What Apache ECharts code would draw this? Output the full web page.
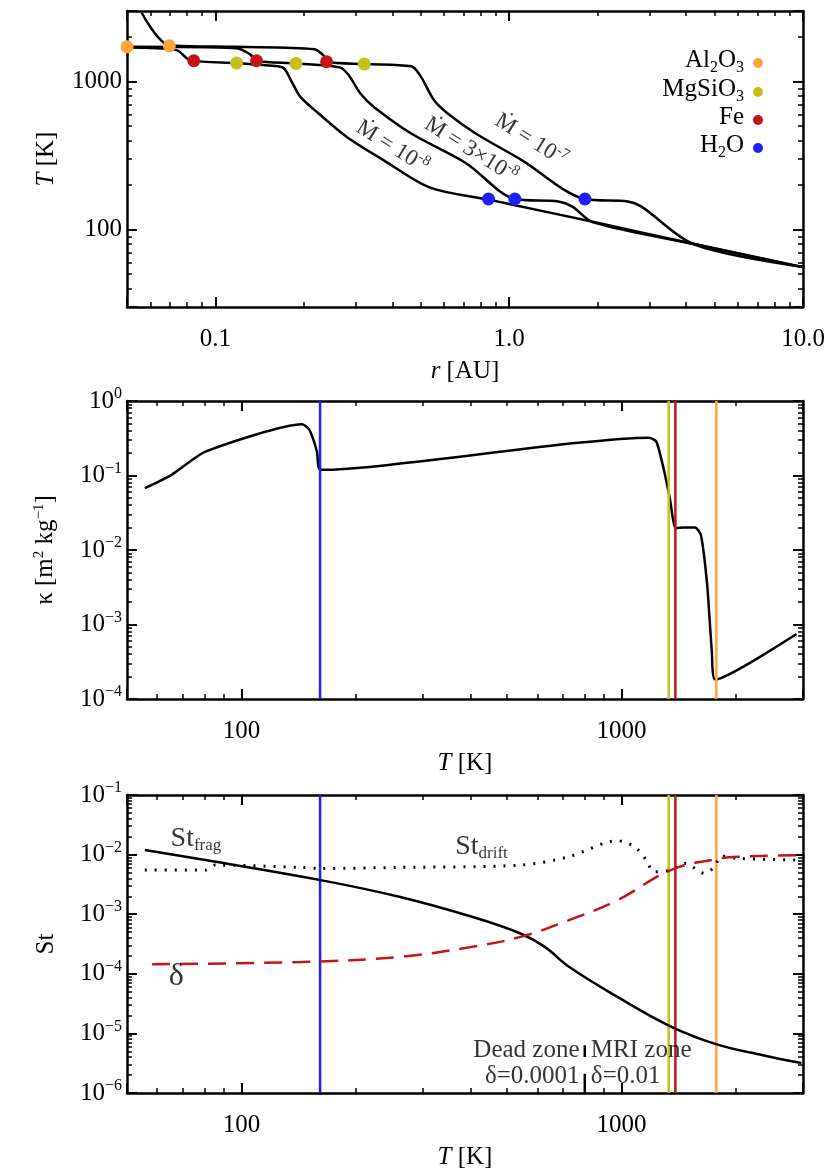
<!DOCTYPE html>
<html><head><meta charset="utf-8">
<script src="https://cdn.jsdelivr.net/npm/echarts@6/dist/echarts.min.js"></script>
<style>html,body{margin:0;padding:0;background:#fff}#c{width:830px;height:1176px}</style>
</head><body><div id="c"></div>
<script>
// ---- Panel 1: T(r) for three accretion rates ----
const rA = [0.05,0.0736,0.082,0.118,0.163,0.172,0.181,0.195,0.225,0.28,0.373,0.535,0.857,1.0,1.96,4.34,10];
const tA = [1700,1632,1397,1334,1268,1216,1016,785,607,423,295,193,159,149,112,79.3,55.8];
const rB = [0.05,0.118,0.131,0.138,0.188,0.265,0.285,0.312,0.347,0.464,0.715,1.045,1.47,1.64,1.93,4.34,10];
const tB = [1718,1682,1534,1383,1327,1248,1097,827,672,446,280,161,155,143,112,79.3,55.8];
const rC = [0.0561,0.0697,0.118,0.217,0.234,0.239,0.323,0.464,0.498,0.556,0.619,0.769,1.103,1.81,2.53,2.82,4.27,10];
const tC = [2920,1762,1718,1656,1494,1362,1314,1268,1097,745,607,446,295,161,155,143,79.3,55.8];
const dotAl = [[0.05,1718],[0.0697,1745]];
const dotMg = [[0.118,1334],[0.188,1327],[0.321,1314]];
const dotFe = [[0.0844,1383],[0.138,1383],[0.239,1362]];
const dotH2O = [[0.85,161],[1.045,161],[1.81,161]];
const mdotLabels = [[0.40,362,'10{s|-8}'],[0.741,344,'3×10{s|-8}'],[1.186,402,'10{s|-7}']];
// ---- Panel 2: opacity ----
const kT = [55.7,65.5,80.4,144.5,151,158,161.5,1181,1234,1289,1339,1387,1449,1560,1616,1679,1727,1763,2884];
const kV = [0.0675,0.102,0.209,0.486,0.408,0.209,0.119,0.322,0.285,0.125,0.0495,0.0196,0.02,0.02,0.016,0.00341,4.36e-4,1.82e-4,7.44e-4];
// ---- Panel 3: Stokes numbers ----
const fT = [55.7,80.4,161.5,260,404,542,628,727,975,1327,1754,2351,2972];
const fV = [0.0119,0.00809,0.00373,1.96e-3,9.04e-4,4.74e-4,2.83e-4,1.31e-4,4.1e-5,1.37e-5,6.75e-6,4.3e-6,3.19e-6];
const dT = [55.7,80.4,85.3,144.5,161.5,260,542,727,975,1080,1161,1215,1347,1470,1652,1754,1832,2031,2972];
const dV = [0.0055,0.0055,0.00667,0.00609,0.00586,0.00609,0.00667,0.0092,0.0171,0.0136,0.00809,0.00515,0.0055,0.00711,0.00483,0.00625,0.00944,0.00863,0.00809];
const deT = [58.2,144.5,260,404,542,727,975,1347,1754,2031,2972];
const deV = [1.45e-4,1.58e-4,1.92e-4,2.83e-4,4.17e-4,7.94e-4,1.72e-3,5.5e-3,8.3e-3,9.2e-3,9.82e-3];
const zoneSeg = [[800,6.3e-6],[800,4.0e-6],[800,null],[800,2.1e-6],[800,1e-6]];
const condT = {H2O:161, MgSiO3:1330, Fe:1385, Al2O3:1775};
const col = {Al2O3:'#ffa53a', MgSiO3:'#c6bf1c', Fe:'#c41414', H2O:'#1e1eff'};

const F = 'Liberation Serif';
const FS = 25;
const chart = echarts.init(document.getElementById('c'));
const pow = v => { const l = Math.log10(v); return Math.abs(l-Math.round(l))<1e-6 ? Math.round(l) : null; };
const supFmt = v => { const p = pow(v); return p===null ? '' : '10{s|' + (p<0?'−'+(-p):p) + '}'; };
const rich = {s:{fontSize:16,verticalAlign:'top',padding:[0,0,14,0],fontFamily:F,color:'#000'}};
function xAx(g,min,max,fmt,name,show){
  return {type:'log',gridIndex:g,min,max,position:show?'bottom':'top',
    axisLine:{show:true,lineStyle:{color:'#000',width:2.5}},
    axisTick:{show:true,inside:true,length:10,lineStyle:{color:'#000',width:2}},
    minorTick:{show:true,splitNumber:9,length:5,lineStyle:{color:'#000',width:1.5}},
    splitLine:{show:false},
    axisLabel:{show:show,formatter:fmt,fontFamily:F,fontSize:FS,color:'#000',margin:20},
    name:show?name:'',nameLocation:'middle',nameGap:52,nameTextStyle:{fontFamily:F,fontSize:FS,color:'#000',rich:{i:{fontStyle:'italic',fontFamily:F,fontSize:FS}}}};
}
function yAx(g,min,max,fmt,name,show,gap){
  return {type:'log',gridIndex:g,min,max,position:show?'left':'right',
    axisLine:{show:true,lineStyle:{color:'#000',width:2.5}},
    axisTick:{show:true,inside:true,length:10,lineStyle:{color:'#000',width:2}},
    minorTick:{show:true,splitNumber:9,length:5,lineStyle:{color:'#000',width:1.5}},
    splitLine:{show:false},
    axisLabel:{show:show,formatter:fmt,fontFamily:F,fontSize:FS,color:'#000',margin:5,rich},
    name:show?name:'',nameLocation:'middle',nameGap:gap,
    nameTextStyle:{fontFamily:F,fontSize:FS,color:'#000',rich:{i:{fontStyle:'italic',fontFamily:F,fontSize:FS},s:{fontSize:15,verticalAlign:'top',padding:[0,0,12,0],fontFamily:F}}}};
}
const fmt1x = v => { const p = pow(v); return p===null?'':(v<1?String(v):v.toFixed(1)); };
const fmtInt = v => { const p = pow(v); return p===null?'':String(Math.round(v)); };
const z = (a,b) => a.map((v,i)=>[v,b[i]]);
const line = (xi,yi,data,color,type,w,sm) => ({type:'line',xAxisIndex:xi,yAxisIndex:yi,data,showSymbol:false,symbol:'none',smooth:sm||false,
  lineStyle:{color,width:w||2.5,type:type||'solid'},silent:true,connectNulls:false,z:3});
const vline = (xi,yi,T,c,lo,hi) => line(xi,yi,[[T,lo],[T,hi]],c,'solid',2.5);
const txt = (xi,yi,x,y,fmt,align,extra,fs) => ({type:'scatter',xAxisIndex:xi,yAxisIndex:yi,symbolSize:0,data:[[x,y]],silent:true,z:10,
  label:Object.assign({show:true,position:'inside',formatter:fmt,fontFamily:F,fontSize:fs||FS,color:'#000',align:align||'center',
    rich:{s:{fontSize:15,verticalAlign:'top',padding:[0,0,12,0],fontFamily:F},b:{fontSize:17,verticalAlign:'bottom',padding:[14,0,0,0],fontFamily:F},i:{fontStyle:'italic',fontFamily:F,fontSize:FS}}},extra||{})});

const series = [];
series.push(line(0,0,z(rA,tA),'#000','solid',2.5,0.3), line(0,0,z(rB,tB),'#000','solid',2.5,0.3), line(0,0,z(rC,tC),'#000','solid',2.5,0.3));
[['Al2O3',dotAl],['MgSiO3',dotMg],['Fe',dotFe],['H2O',dotH2O]].forEach(([k,d])=>{
  series.push({type:'scatter',xAxisIndex:0,yAxisIndex:0,data:d,symbolSize:13,itemStyle:{color:col[k],opacity:1},z:5,silent:true});
});
mdotLabels.forEach(m=>series.push(txt(0,0,m[0],m[1],'Ṁ = '+m[2],'center',{rotate:-32},23)));
series.push(line(2,2,z(kT,kV),'#000','solid',2.5,0.2));
['H2O','MgSiO3','Fe','Al2O3'].forEach(k=>series.push(vline(2,2,condT[k],col[k],1e-4,1)));
['H2O','MgSiO3','Fe','Al2O3'].forEach(k=>series.push(vline(4,4,condT[k],col[k],1e-6,0.1)));
series.push(line(4,4,z(fT,fV),'#000','solid',2.5,0.4));
series.push(line(4,4,z(dT,dV),'#000',[2,8],3,0.3));
series.push(line(4,4,z(deT,deV),'#c41414',[18,10],2.5,0.4));
series.push(line(4,4,zoneSeg,'#000','solid',2.5));
series.push(txt(4,4,75.9,0.0187,'St{b|frag}','center',null,28));
series.push(txt(4,4,428,0.0136,'St{b|drift}','center',null,28));
series.push(txt(4,4,67.4,8.9e-5,'δ','center',null,32));
series.push(txt(4,4,775,3.1e-6,'Dead zone\nδ=0.0001','right',{lineHeight:26}));
series.push(txt(4,4,830,3.1e-6,'MRI zone\nδ=0.01','left',{lineHeight:26}));

const legendItems = [['Al{b|2}O{b|3}','Al2O3',63],['MgSiO{b|3}','MgSiO3',92],['Fe','Fe',120],['H{b|2}O','H2O',148]];
const graphic = [];
legendItems.forEach(([t,k,y])=>{
  graphic.push({type:'text',right:830-744,top:y-15,style:{text:t,font:'25px "Liberation Serif"',fill:'#000',textAlign:'right',
    rich:{b:{fontSize:16,verticalAlign:'bottom',padding:[14,0,0,0],fontFamily:F}}}});
  graphic.push({type:'circle',shape:{cx:758,cy:y,r:5},style:{fill:col[k]}});
});

chart.setOption({
  animation:false,
  grid:[{left:127,width:676,top:11,height:296},{left:127,width:676,top:401,height:298},{left:127,width:676,top:795,height:298}],
  xAxis:[xAx(0,0.05,10,fmt1x,'{i|r} [AU]',true), xAx(0,0.05,10,fmt1x,'',false),
         xAx(1,50,3000,fmtInt,'{i|T} [K]',true), xAx(1,50,3000,fmtInt,'',false),
         xAx(2,50,3000,fmtInt,'{i|T} [K]',true), xAx(2,50,3000,fmtInt,'',false)],
  yAxis:[yAx(0,30,3000,fmtInt,'{i|T} [K]',true,68), yAx(0,30,3000,fmtInt,'',false),
         yAx(1,1e-4,1,supFmt,'κ [m{s|2} kg{s|−1}]',true,68), yAx(1,1e-4,1,supFmt,'',false),
         yAx(2,1e-6,0.1,supFmt,'St',true,68), yAx(2,1e-6,0.1,supFmt,'',false)],
  series, graphic
});
</script></body></html>
